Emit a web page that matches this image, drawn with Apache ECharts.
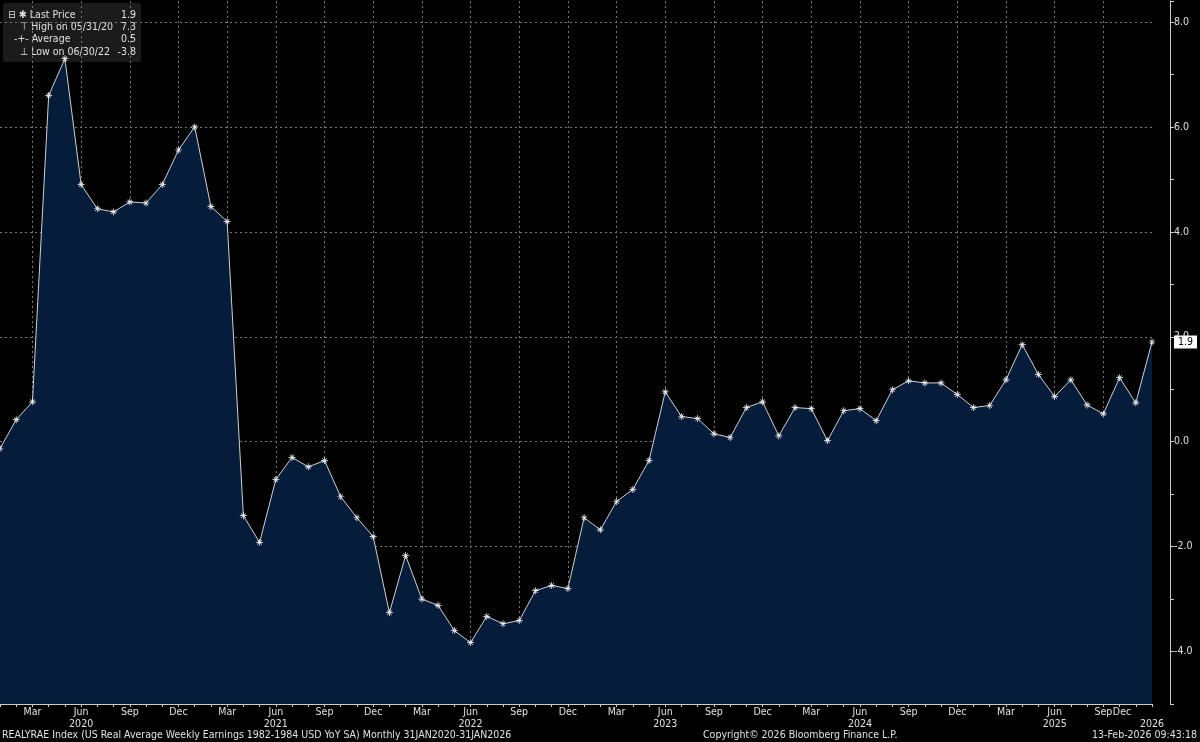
<!DOCTYPE html>
<html><head><meta charset="utf-8">
<script src="https://cdn.jsdelivr.net/npm/echarts@6/dist/echarts.min.js"></script>
<style>html,body{margin:0;background:#000}#c{width:1200px;height:742px}</style>
</head><body><div id="c"></div>
<script>
// monthly, Jan 2020 .. Dec 2025
var months = ['Jan','Feb','Mar','Apr','May','Jun','Jul','Aug','Sep','Oct','Nov','Dec'];
var years = [2020, 2021, 2022, 2023, 2024, 2025];
var values = [
  -0.13, 0.42, 0.76, 6.6, 7.3, 4.9, 4.44, 4.38, 4.57, 4.55, 4.9, 5.56,
  6.0, 4.48, 4.2, -1.41, -1.92, -0.72, -0.3, -0.48, -0.36, -1.05, -1.45, -1.81,
  -3.26, -2.17, -3.0, -3.12, -3.6, -3.83, -3.33, -3.47, -3.41, -2.84, -2.74, -2.8,
  -1.45, -1.68, -1.14, -0.91, -0.36, 0.95, 0.48, 0.44, 0.15, 0.08, 0.65, 0.76,
  0.11, 0.65, 0.63, 0.02, 0.59, 0.63, 0.4, 0.99, 1.16, 1.12, 1.12, 0.9,
  0.65, 0.69, 1.18, 1.85, 1.28, 0.86, 1.18, 0.7, 0.53, 1.22, 0.74, 1.9
];
var yTicks = [-4, -2, 0, 2, 4, 6, 8];
var lastPrice = 1.9;
var legendNames = ['⊟ ✱ Last Price', '    ⊤ High on 05/31/20', '  -+- Average', '    ⊥ Low on 06/30/22'];
var legendValues = ['1.9', '7.3', '0.5', '-3.8'];

var cats = [];
years.forEach(function (y) { months.forEach(function (m) { cats.push(m + ' ' + y); }); });

function isQuarter(i) { var m = i % 12; return m === 2 || m === 5 || m === 8 || m === 11; }

var star = 'path://M4.5,0h1v10h-1zM0,4.5h10v1h-10zM1.5,2.2l0.7,-0.7l6.3,6.3l-0.7,0.7zM8.5,2.2l-0.7,-0.7l-6.3,6.3l0.7,0.7z';
var txt = '#e0e0e0';
var font = 'DejaVu Sans Condensed';
var chart = echarts.init(document.getElementById('c'));
chart.setOption({
  backgroundColor: '#000',
  animation: false,
  grid: { left: 0, right: 48, top: 1, bottom: 38 },
  xAxis: [{
    type: 'category', data: cats, boundaryGap: false,
    axisLine: { onZero: false, lineStyle: { color: '#ccc' } },
    axisTick: { show: true, interval: 0, length: 3, lineStyle: { color: '#ccc' } },
    axisLabel: {
      interval: function (i) { return isQuarter(i); },
      showMaxLabel: true, hideOverlap: false,
      color: txt, fontFamily: font, fontSize: 10.5, lineHeight: 12.5, margin: 2,
      formatter: function (v, i) {
        var p = v.split(' ');
        if (i === cats.length - 1) return '{d|Dec}\n{y|2026}';
        if (p[0] === 'Jun') return 'Jun\n' + p[1];
        return p[0];
      },
      rich: {
        d: { color: txt, fontFamily: font, fontSize: 10.5, lineHeight: 12.5, padding: [0, 60, 0, 0] },
        y: { color: txt, fontFamily: font, fontSize: 10.5, lineHeight: 12.5 }
      }
    },
    splitLine: { show: true, interval: function (i) { return isQuarter(i) && i !== cats.length - 1; },
      lineStyle: { color: '#777', type: [2, 3], width: 1 } }
  }],
  yAxis: {
    type: 'value', position: 'right', min: -5, max: 8.4, interval: 1, offset: 18,
    axisLine: { show: true, lineStyle: { color: '#ccc' } },
    axisTick: { show: true, length: 4, lineStyle: { color: '#ccc' } },
    axisLabel: {
      color: txt, fontFamily: font, fontSize: 10.5, margin: 4,
      formatter: function (v) { return yTicks.indexOf(Math.round(v)) >= 0 && Math.abs(v - Math.round(v)) < 1e-6 ? v.toFixed(1) : ''; }
    },
    splitLine: { show: false }
  },
  series: [{
    type: 'line', data: values, symbol: star, symbolSize: 7, showAllSymbol: true,
    itemStyle: { color: '#fff' },
    lineStyle: { color: '#d0d0d0', width: 1 },
    areaStyle: { color: '#051d3b', opacity: 1, origin: 'start' },
    z: 3,
    markLine: {
      silent: true, symbol: 'none', z: 1,
      data: yTicks.map(function (t) { return { yAxis: t, label: { show: false } }; }),
      lineStyle: { color: '#777', type: [2, 3], width: 1 }
    }
  }, {
    type: 'line', data: [], z: 5,
    markLine: {
      silent: true, symbol: 'none', data: [{ yAxis: lastPrice }],
      lineStyle: { width: 0 },
      label: { position: 'end', formatter: String(lastPrice), color: '#000', backgroundColor: '#fff',
        padding: [1, 4], fontSize: 10.5, fontFamily: font, distance: 22 }
    }
  }],
  graphic: [
    { type: 'rect', left: 3, top: 3, shape: { width: 138, height: 59, r: 2 }, style: { fill: '#1b1b1b' } },
    { type: 'text', x: 8, y: 9, style: { text: legendNames.join('\n'), fill: txt, font: '10.5px "DejaVu Sans Condensed"', lineHeight: 12.3 } },
    { type: 'text', x: 136, y: 9, style: { text: legendValues.join('\n'), fill: txt, align: 'right', textAlign: 'right', font: '10.5px "DejaVu Sans Condensed"', lineHeight: 12.3 } },
    { type: 'text', left: 2, bottom: 1, style: { text: 'REALYRAE Index (US Real Average Weekly Earnings 1982-1984 USD YoY SA) Monthly 31JAN2020-31JAN2026', fill: txt, font: '10.5px "DejaVu Sans Condensed"' } },
    { type: 'text', left: 703, bottom: 1, style: { text: 'Copyright© 2026 Bloomberg Finance L.P.', fill: txt, font: '10.5px "DejaVu Sans Condensed"' } },
    { type: 'text', right: 3, bottom: 1, style: { text: '13-Feb-2026 09:43:18', fill: txt, font: '10.5px "DejaVu Sans Condensed"' } }
  ]
});
</script></body></html>
